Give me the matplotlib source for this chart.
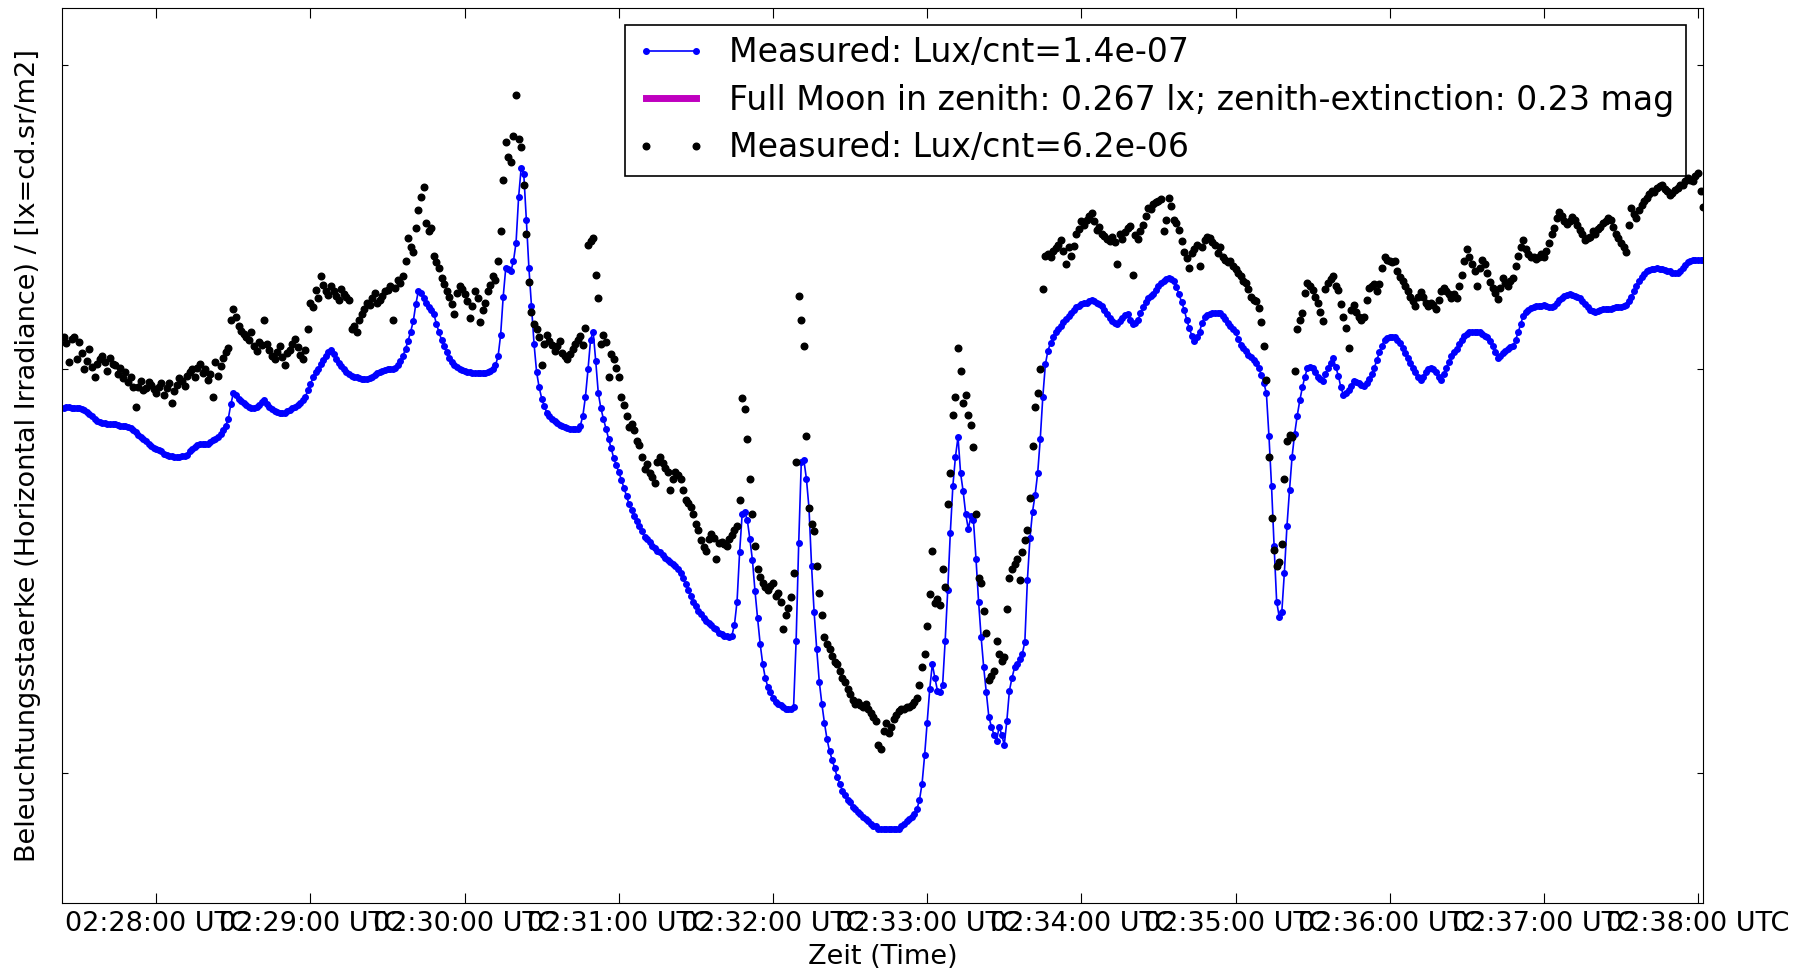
import datetime
import matplotlib
matplotlib.use("Agg")
import matplotlib.pyplot as plt
import matplotlib.dates as mdates
from matplotlib.ticker import NullLocator

# illuminance in mlx, one sample per second starting 02:27:24 UTC
blue_mlx = [
    4.58, 4.59, 4.59, 4.58, 4.58, 4.58, 4.58, 4.57, 4.56, 4.54, 4.52, 4.50, 4.47, 4.45, 4.44, 4.43, 4.43, 4.42, 4.42, 4.42,
    4.42, 4.41, 4.40, 4.40, 4.40, 4.39, 4.38, 4.36, 4.34, 4.31, 4.29, 4.27, 4.25, 4.22, 4.20, 4.18, 4.17, 4.16, 4.15, 4.13,
    4.12, 4.11, 4.11, 4.10, 4.10, 4.10, 4.11, 4.11, 4.12, 4.15, 4.17, 4.19, 4.21, 4.22, 4.22, 4.22, 4.22, 4.24, 4.26, 4.27,
    4.29, 4.32, 4.36, 4.40, 4.47, 4.62, 4.74, 4.72, 4.68, 4.65, 4.63, 4.61, 4.59, 4.58, 4.58, 4.59, 4.61, 4.64, 4.66, 4.62,
    4.59, 4.57, 4.55, 4.54, 4.53, 4.53, 4.53, 4.55, 4.56, 4.58, 4.59, 4.61, 4.63, 4.66, 4.70, 4.77, 4.84, 4.91, 4.97, 5.01,
    5.06, 5.11, 5.16, 5.20, 5.23, 5.18, 5.12, 5.08, 5.04, 5.00, 4.97, 4.95, 4.93, 4.92, 4.91, 4.90, 4.89, 4.89, 4.89, 4.90,
    4.92, 4.94, 4.96, 4.97, 4.98, 4.99, 5.00, 5.00, 5.00, 5.02, 5.05, 5.10, 5.16, 5.24, 5.34, 5.45, 5.58, 5.80, 5.98, 5.95,
    5.88, 5.82, 5.76, 5.72, 5.67, 5.55, 5.44, 5.35, 5.27, 5.20, 5.13, 5.09, 5.05, 5.03, 5.01, 4.99, 4.98, 4.97, 4.97, 4.96,
    4.96, 4.96, 4.96, 4.96, 4.96, 4.97, 4.98, 5.01, 5.05, 5.15, 5.41, 5.90, 6.30, 6.28, 6.25, 6.40, 6.67, 7.40, 7.91, 7.80,
    7.03, 6.30, 5.77, 5.30, 4.97, 4.80, 4.68, 4.60, 4.53, 4.50, 4.47, 4.45, 4.43, 4.41, 4.40, 4.39, 4.38, 4.37, 4.37, 4.37,
    4.37, 4.40, 4.50, 4.70, 5.00, 5.35, 5.45, 5.10, 4.74, 4.58, 4.47, 4.37, 4.27, 4.18, 4.09, 4.02, 3.96, 3.89, 3.82, 3.75,
    3.68, 3.63, 3.58, 3.54, 3.50, 3.46, 3.42, 3.40, 3.38, 3.35, 3.33, 3.31, 3.30, 3.28, 3.26, 3.24, 3.23, 3.21, 3.20, 3.18,
    3.15, 3.11, 3.07, 3.03, 2.99, 2.95, 2.92, 2.89, 2.87, 2.84, 2.82, 2.81, 2.80, 2.78, 2.77, 2.75, 2.74, 2.73, 2.73, 2.72,
    2.73, 2.80, 2.95, 3.30, 3.60, 3.62, 3.55, 3.40, 3.24, 3.02, 2.84, 2.68, 2.56, 2.48, 2.43, 2.40, 2.37, 2.35, 2.34, 2.33,
    2.32, 2.31, 2.31, 2.31, 2.32, 2.70, 3.37, 4.05, 4.07, 3.90, 3.65, 3.20, 2.88, 2.65, 2.46, 2.34, 2.24, 2.16, 2.10, 2.06,
    2.02, 1.98, 1.95, 1.92, 1.90, 1.88, 1.87, 1.85, 1.84, 1.83, 1.82, 1.81, 1.80, 1.79, 1.78, 1.77, 1.77, 1.76, 1.76, 1.76,
    1.76, 1.76, 1.76, 1.76, 1.76, 1.76, 1.77, 1.78, 1.79, 1.80, 1.81, 1.82, 1.84, 1.88, 1.95, 2.08, 2.24, 2.42, 2.56, 2.48,
    2.41, 2.40, 2.44, 2.70, 3.03, 3.45, 3.84, 4.10, 4.29, 3.95, 3.79, 3.60, 3.48, 3.58, 3.55, 3.25, 2.95, 2.72, 2.54, 2.40,
    2.27, 2.22, 2.18, 2.15, 2.22, 2.18, 2.13, 2.25, 2.41, 2.48, 2.54, 2.56, 2.59, 2.62, 2.69, 3.10, 3.41, 3.62, 3.76, 3.95,
    4.27, 4.70, 5.06, 5.22, 5.31, 5.38, 5.44, 5.48, 5.52, 5.57, 5.61, 5.65, 5.68, 5.72, 5.76, 5.78, 5.80, 5.81, 5.82, 5.84,
    5.85, 5.84, 5.82, 5.80, 5.77, 5.72, 5.67, 5.62, 5.58, 5.56, 5.55, 5.58, 5.62, 5.66, 5.67, 5.60, 5.54, 5.56, 5.59, 5.68,
    5.76, 5.83, 5.88, 5.91, 5.93, 5.99, 6.04, 6.09, 6.12, 6.14, 6.15, 6.14, 6.12, 6.03, 5.93, 5.83, 5.73, 5.60, 5.49, 5.40,
    5.34, 5.38, 5.45, 5.56, 5.64, 5.66, 5.67, 5.68, 5.68, 5.68, 5.68, 5.65, 5.61, 5.56, 5.52, 5.48, 5.44, 5.36, 5.29, 5.25,
    5.21, 5.17, 5.14, 5.11, 5.08, 5.02, 4.94, 4.85, 4.74, 4.30, 3.84, 3.35, 2.95, 2.85, 2.88, 3.15, 3.50, 3.80, 4.10, 4.32,
    4.50, 4.66, 4.80, 4.92, 5.02, 5.03, 5.02, 4.97, 4.92, 4.89, 4.87, 4.95, 5.02, 5.08, 5.13, 5.03, 4.93, 4.80, 4.72, 4.74,
    4.77, 4.82, 4.87, 4.86, 4.85, 4.83, 4.82, 4.85, 4.89, 4.95, 5.02, 5.11, 5.20, 5.28, 5.35, 5.37, 5.38, 5.38, 5.38, 5.35,
    5.31, 5.25, 5.19, 5.13, 5.08, 5.02, 4.97, 4.92, 4.88, 4.92, 4.97, 5.00, 5.02, 5.00, 4.97, 4.92, 4.88, 4.95, 5.02, 5.09,
    5.16, 5.20, 5.24, 5.30, 5.35, 5.39, 5.42, 5.44, 5.45, 5.45, 5.45, 5.44, 5.42, 5.40, 5.38, 5.33, 5.27, 5.20, 5.13, 5.16,
    5.19, 5.22, 5.24, 5.26, 5.27, 5.35, 5.44, 5.55, 5.65, 5.70, 5.73, 5.75, 5.76, 5.77, 5.77, 5.78, 5.79, 5.78, 5.76, 5.76,
    5.77, 5.81, 5.85, 5.88, 5.91, 5.92, 5.93, 5.92, 5.91, 5.90, 5.88, 5.84, 5.80, 5.76, 5.73, 5.71, 5.70, 5.71, 5.73, 5.74,
    5.74, 5.74, 5.74, 5.75, 5.76, 5.76, 5.76, 5.77, 5.79, 5.84, 5.90, 5.97, 6.04, 6.11, 6.17, 6.21, 6.25, 6.27, 6.28, 6.29,
    6.30, 6.29, 6.28, 6.27, 6.26, 6.25, 6.23, 6.23, 6.23, 6.26, 6.30, 6.34, 6.38, 6.40, 6.42, 6.42, 6.42, 6.42, 6.42,
]

black_mlx = [
    5.38, 5.31, 5.09, 5.36, 5.38, 5.12, 5.32, 5.19, 5.00, 5.10, 5.24, 5.03, 4.91, 5.06, 5.12, 5.15, 5.09, 4.98, 5.13, 5.06,
    5.05, 4.95, 5.02, 4.90, 4.97, 4.86, 4.92, 4.80, 4.59, 4.81, 4.87, 4.77, 4.79, 4.86, 4.83, 4.78, 4.74, 4.81, 4.85, 4.72,
    4.79, 4.85, 4.63, 4.76, 4.83, 4.90, 4.87, 4.82, 4.93, 4.97, 5.00, 4.92, 5.02, 5.06, 4.96, 5.00, 4.88, 4.95, 4.70, 5.09,
    4.93, 5.04, 5.13, 5.20, 5.25, 5.60, 5.74, 5.63, 5.52, 5.46, 5.42, 5.38, 5.35, 5.44, 5.27, 5.22, 5.32, 5.29, 5.59, 5.30,
    5.23, 5.16, 5.12, 5.20, 5.27, 5.14, 5.05, 5.19, 5.23, 5.30, 5.36, 5.26, 5.17, 5.12, 5.23, 5.48, 5.82, 5.76, 5.99, 5.88,
    6.18, 6.06, 5.98, 5.92, 6.04, 5.97, 5.91, 5.86, 6.01, 5.94, 5.90, 5.85, 5.48, 5.52, 5.44, 5.60, 5.67, 5.74, 5.82, 5.79,
    5.88, 5.95, 5.82, 5.86, 5.91, 5.97, 5.99, 6.05, 5.59, 6.02, 6.13, 6.09, 6.18, 6.40, 6.74, 6.60, 6.53, 6.90, 7.18, 7.40,
    7.57, 6.97, 6.85, 6.90, 6.47, 6.38, 6.30, 6.16, 6.07, 5.98, 5.90, 5.80, 5.67, 5.95, 6.04, 6.00, 5.93, 5.84, 5.62, 5.78,
    5.98, 5.88, 5.57, 5.72, 5.82, 5.98, 6.06, 6.18, 6.13, 6.40, 6.85, 7.70, 8.39, 8.10, 8.02, 8.50, 9.34, 8.45, 8.30, 7.60,
    6.80, 6.10, 5.70, 5.55, 5.48, 5.38, 5.05, 5.30, 5.41, 5.34, 5.29, 5.22, 5.27, 5.33, 5.19, 5.15, 5.12, 5.18, 5.24, 5.30,
    5.35, 5.40, 5.29, 5.50, 6.64, 6.70, 6.74, 6.20, 5.88, 5.30, 5.41, 5.32, 4.91, 5.18, 5.12, 5.02, 4.92, 4.70, 4.61, 4.50,
    4.39, 4.42, 4.36, 4.25, 4.21, 4.10, 3.99, 4.03, 3.95, 3.92, 3.86, 4.05, 4.10, 4.04, 4.00, 3.96, 3.80, 3.90, 3.96, 3.93,
    3.90, 3.80, 3.72, 3.69, 3.66, 3.60, 3.52, 3.47, 3.39, 3.34, 3.31, 3.40, 3.44, 3.41, 3.25, 3.37, 3.38, 3.36, 3.35, 3.40,
    3.43, 3.47, 3.50, 3.72, 4.69, 4.57, 4.27, 3.90, 3.60, 3.35, 3.18, 3.12, 3.08, 3.05, 3.03, 3.06, 3.08, 2.99, 3.01, 2.95,
    2.77, 2.86, 2.91, 2.98, 3.15, 4.05, 5.91, 5.60, 5.27, 4.30, 3.65, 3.52, 3.46, 3.20, 3.01, 2.86, 2.72, 2.68, 2.65, 2.61,
    2.57, 2.56, 2.52, 2.48, 2.46, 2.42, 2.39, 2.36, 2.34, 2.35, 2.33, 2.32, 2.34, 2.31, 2.29, 2.27, 2.25, 2.13, 2.11, 2.20,
    2.24, 2.19, 2.22, 2.26, 2.28, 2.30, 2.31, 2.31, 2.32, 2.32, 2.33, 2.35, 2.37, 2.44, 2.54, 2.62, 2.79, 3.00, 3.31, 2.94,
    2.97, 2.93, 3.18, 3.05, 3.68, 3.95, 4.51, 4.70, 5.25, 4.98, 4.63, 4.72, 4.51, 4.41, 4.19, 3.60, 3.11, 3.08, 2.89, 2.75,
    2.47, 2.49, 2.52, 2.70, 2.62, 2.58, 2.60, 2.90, 3.11, 3.18, 3.21, 3.25, 3.10, 3.30, 3.39, 3.47, 3.73, 4.20, 4.59, 4.74,
    5.01, 6.00, 6.47, 6.50, 6.45, 6.54, 6.59, 6.64, 6.71, 6.55, 6.35, 6.60, 6.47, 6.62, 6.80, 6.88, 7.00, 6.94, 7.03, 7.08,
    7.14, 7.00, 6.87, 6.92, 6.80, 6.77, 6.72, 6.70, 6.76, 6.68, 6.35, 6.80, 6.72, 6.83, 6.89, 6.93, 6.20, 6.79, 6.72, 6.85,
    6.94, 7.08, 7.22, 7.20, 7.28, 7.31, 7.33, 7.36, 6.85, 7.02, 7.39, 7.25, 7.03, 6.98, 6.87, 6.70, 6.53, 6.44, 6.30, 6.52,
    6.57, 6.63, 6.33, 6.60, 6.71, 6.76, 6.74, 6.68, 6.64, 6.52, 6.60, 6.45, 6.42, 6.38, 6.40, 6.33, 6.28, 6.23, 6.18, 6.12,
    6.09, 6.00, 5.90, 5.86, 5.84, 5.75, 5.57, 5.27, 4.88, 4.10, 3.57, 3.32, 3.20, 3.23, 3.36, 3.90, 4.25, 4.31, 4.29, 4.98,
    5.48, 5.60, 5.68, 5.95, 6.09, 6.04, 5.99, 5.90, 5.82, 5.70, 5.58, 6.00, 6.09, 6.14, 6.18, 6.05, 5.99, 5.80, 5.64, 5.50,
    5.25, 5.72, 5.79, 5.70, 5.64, 5.60, 5.64, 5.85, 6.02, 6.05, 6.07, 5.98, 6.07, 6.30, 6.45, 6.42, 6.40, 6.38, 6.40, 6.25,
    6.17, 6.12, 6.04, 5.97, 5.90, 5.84, 5.77, 5.90, 5.96, 5.89, 5.82, 5.77, 5.82, 5.79, 5.74, 5.86, 5.98, 6.02, 5.98, 5.93,
    5.88, 5.94, 5.88, 6.05, 6.20, 6.40, 6.57, 6.45, 6.36, 6.25, 6.04, 6.30, 6.42, 6.35, 6.23, 6.10, 6.02, 5.95, 5.87, 6.02,
    6.15, 6.08, 6.04, 6.12, 6.15, 6.33, 6.47, 6.60, 6.71, 6.58, 6.50, 6.46, 6.45, 6.43, 6.45, 6.50, 6.45, 6.55, 6.67, 6.80,
    6.90, 7.05, 7.16, 7.08, 7.00, 6.96, 7.00, 7.07, 7.03, 6.95, 6.87, 6.80, 6.71, 6.74, 6.76, 6.85, 6.81, 6.88, 6.92, 6.97,
    7.00, 7.06, 7.03, 6.92, 6.81, 6.74, 6.67, 6.60, 6.53, 6.95, 7.22, 7.12, 7.05, 7.18, 7.26, 7.33, 7.39, 7.45, 7.51, 7.48,
    7.55, 7.58, 7.61, 7.54, 7.51, 7.44, 7.47, 7.52, 7.55, 7.60, 7.61, 7.68, 7.73, 7.70, 7.67, 7.76, 7.81, 7.50, 7.24,
]

full_moon_lx = 0.267

start = datetime.datetime(2015, 1, 1, 2, 27, 24)
times = [start + datetime.timedelta(seconds=i) for i in range(len(blue_mlx))]
blue = [v / 1000.0 for v in blue_mlx]
black = [v / 1000.0 for v in black_mlx]
moon = [full_moon_lx for t in times]

fig = plt.figure(figsize=(18.13, 9.68), dpi=100)
ax = fig.add_axes([0.0342, 0.0671, 0.9051, 0.9246])

ax.plot(times, blue, "b.-", lw=1.2, ms=8, label="Measured: Lux/cnt=1.4e-07")
ax.plot(times, moon, "m-", lw=5, label="Full Moon in zenith: 0.267 lx; zenith-extinction: 0.23 mag")
ax.plot(times, black, "k.", ms=9.5, label="Measured: Lux/cnt=6.2e-06")

ax.set_yscale("log")
ax.set_ylim(1.487e-3, 1.137e-2)
ax.set_yticks([2e-3, 5e-3, 1e-2])
ax.set_yticklabels(["", "", ""])
ax.yaxis.set_minor_locator(NullLocator())

ax.set_xlim(datetime.datetime(2015, 1, 1, 2, 27, 23, 300000),
            datetime.datetime(2015, 1, 1, 2, 38, 1, 900000))
ax.xaxis.set_major_locator(mdates.MinuteLocator())
ax.xaxis.set_major_formatter(mdates.DateFormatter("%H:%M:%S UTC"))

ax.tick_params(axis="both", direction="in", top=True, right=True, labelsize=19.5)
ax.tick_params(axis="x", length=7, pad=6)
ax.tick_params(axis="y", length=4.5)

ax.set_xlabel("Zeit (Time)", fontsize=19.5, labelpad=5)
ax.set_ylabel("Beleuchtungsstaerke (Horizontal Irradiance) / [lx=cd.sr/m2]", fontsize=19.5, labelpad=11.5)

leg = ax.legend(loc="upper right", fontsize=23.9, numpoints=2, handlelength=2.1,
                handletextpad=0.7, borderpad=0.35, labelspacing=0.44,
                fancybox=False, framealpha=1)
leg.get_frame().set_edgecolor("k")
leg.get_frame().set_linewidth(1.2)

fig.savefig("out.png", dpi=100)
